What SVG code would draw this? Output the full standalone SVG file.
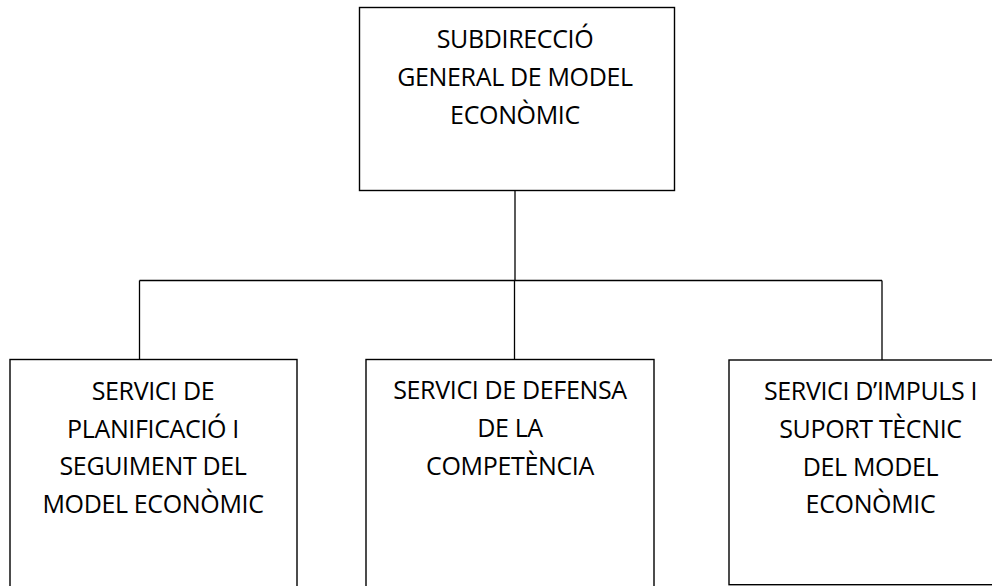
<svg xmlns="http://www.w3.org/2000/svg" width="992" height="586" viewBox="0 0 992 586">
<style>
.box{fill:#fff;stroke:#000;stroke-width:1.4}
.lbl{font-family:"Open Sans","Liberation Sans",sans-serif;font-size:25px;letter-spacing:-0.35px;fill:#000;text-anchor:middle}
.conn{stroke:#000;stroke-width:1.3;fill:none}
</style>
<rect width="992" height="586" fill="#fff"/>
<g id="connectors">
<line class="conn" x1="515" y1="190.5" x2="515" y2="280.5"/>
<line class="conn" x1="139.5" y1="280.5" x2="882" y2="280.5"/>
<line class="conn" x1="139.5" y1="280.5" x2="139.5" y2="359.5"/>
<line class="conn" x1="514.5" y1="280.5" x2="514.5" y2="359.5"/>
<line class="conn" x1="882" y1="280.5" x2="882" y2="360"/>
</g>
<g id="node-subdireccio">
<rect class="box" x="359.5" y="7.5" width="315" height="183"/>
<text class="lbl" x="515" y="47.5">SUBDIRECCIÓ</text>
<text class="lbl" x="515" y="85.8">GENERAL DE MODEL</text>
<text class="lbl" x="515" y="124">ECONÒMIC</text>
</g>
<g id="node-planificacio">
<rect class="box" x="10" y="359.5" width="287" height="240"/>
<text class="lbl" x="153" y="400">SERVICI DE</text>
<text class="lbl" x="153" y="437.5">PLANIFICACIÓ I</text>
<text class="lbl" x="153" y="475.3">SEGUIMENT DEL</text>
<text class="lbl" x="153" y="513.2">MODEL ECONÒMIC</text>
</g>
<g id="node-competencia">
<rect class="box" x="366" y="359.5" width="288" height="240"/>
<text class="lbl" x="510" y="399">SERVICI DE DEFENSA</text>
<text class="lbl" x="510" y="437.3">DE LA</text>
<text class="lbl" x="510" y="475.3">COMPETÈNCIA</text>
</g>
<g id="node-impuls">
<rect class="box" x="729" y="360" width="300" height="224.7"/>
<text class="lbl" x="870.5" y="400">SERVICI D’IMPULS I</text>
<text class="lbl" x="870.5" y="438">SUPORT TÈCNIC</text>
<text class="lbl" x="870.5" y="475.5">DEL MODEL</text>
<text class="lbl" x="870.5" y="513.3">ECONÒMIC</text>
</g>
</svg>
